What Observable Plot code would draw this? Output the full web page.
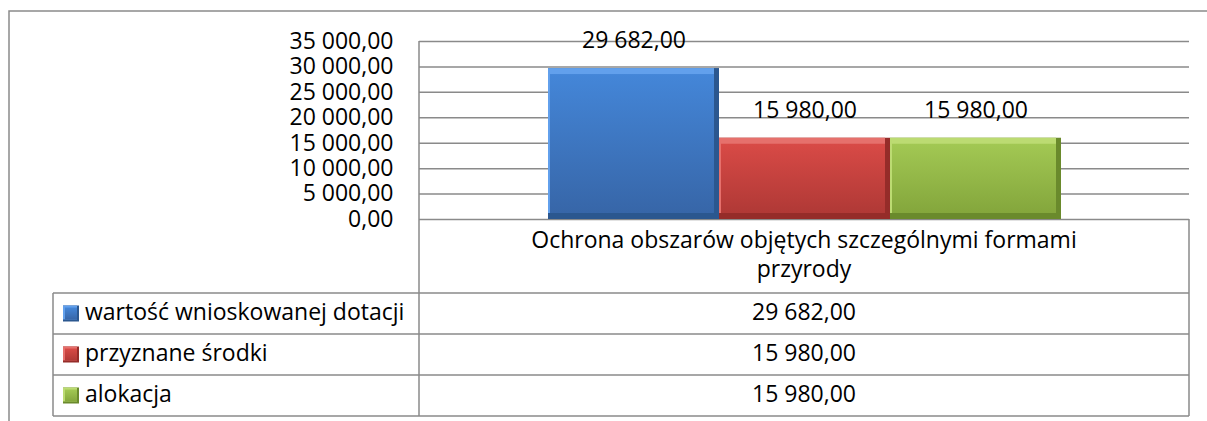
<!DOCTYPE html>
<html><head><meta charset="utf-8">
<script src="https://cdn.jsdelivr.net/npm/d3@7"></script>
<script src="https://cdn.jsdelivr.net/npm/@observablehq/plot@0.6"></script>
<style>body{margin:0;background:#fff;}</style>
</head><body><div id="chart"></div>
<script>
// ---- data ----
const categoryLines = ["Ochrona obszarów objętych szczególnymi formami", "przyrody"];
const series = ["wartość wnioskowanej dotacji", "przyznane środki", "alokacja"];
const values = [29682, 15980, 15980];
const yTicks = [0, 5000, 10000, 15000, 20000, 25000, 30000, 35000];
const faceTop = ["#4486d8", "#d84a46", "#a2c853"];
const faceBottom = ["#3766a8", "#b03936", "#84a63c"];
const edgeLight = ["#62a0ec", "#e6706c", "#bcdb72"];
const edgeDark = ["#2b578f", "#952c29", "#6a8a2c"];

(function () {
const FONT = "'Open Sans', sans-serif";
const FS = 23;
const GRID = "#8a8a8a";
const fmt = d3.formatLocale({decimal: ",", thousands: "\u00a0", grouping: [3], currency: ["", ""]}).format(",.2f");
const fmtS = v => fmt(v).replace(/\u00a0/g, " ");

const rows = series.map((s, i) => ({s, v: values[i], i}));

const chart = Plot.plot({
  width: 1207,
  height: 421,
  marginLeft: 419,
  marginRight: 18,
  marginTop: 41,
  marginBottom: 202,
  style: {fontFamily: FONT, fontSize: FS + "px", color: "#000", background: "#fff"},
  x: {type: "band", domain: series, paddingInner: 0, paddingOuter: 0.75, axis: null},
  y: {domain: [0, 35000], axis: null},
  color: {type: "identity"},
  marks: [
    Plot.ruleY(yTicks, {stroke: GRID, strokeWidth: 1.5}),
    Plot.axisY(yTicks, {tickSize: 0, tickPadding: 26, tickFormat: fmtS, fontSize: FS, fill: "#000", label: null}),
    Plot.barY(rows, {x: "s", y: "v", fill: d => edgeDark[d.i]}),
    Plot.barY(rows, {x: "s", y: "v", fill: d => edgeLight[d.i], insetBottom: 6, insetRight: 5}),
    Plot.barY(rows, {x: "s", y: "v", fill: d => `url(#face${d.i})`, insetTop: 6, insetBottom: 6, insetLeft: 2, insetRight: 5}),
    Plot.text(rows, {x: "s", y: "v", text: d => fmtS(d.v), dy: -28, fontSize: FS, fill: "#000", lineAnchor: "middle"})
  ]
});
document.getElementById("chart").appendChild(chart);

const svg = d3.select(chart);
const defs = svg.insert("defs", ":first-child");
series.forEach((s, i) => {
  const g = defs.append("linearGradient").attr("id", "face" + i).attr("x1", 0).attr("y1", 0).attr("x2", 0).attr("y2", 1);
  g.append("stop").attr("offset", "0%").attr("stop-color", faceTop[i]);
  g.append("stop").attr("offset", "100%").attr("stop-color", faceBottom[i]);
});

const xr = chart.scale("x").range;
const yr = chart.scale("y").range;
const xLeft = xr[0], xRight = xr[1], yBase = yr[0], yTop = yr[1];
const headerBottom = 293, rowH = 41, legendLeft = 53;
const tableBottom = headerBottom + rowH * series.length;
const midX = (xLeft + xRight) / 2;
const layer = svg.append("g").attr("text-anchor", "start");

layer.append("path").attr("d", `M9,421V11H1207`).attr("fill", "none").attr("stroke", GRID).attr("stroke-width", 1.5);
layer.append("line").attr("x1", xLeft).attr("x2", xLeft).attr("y1", yTop).attr("y2", tableBottom).attr("stroke", GRID).attr("stroke-width", 1.5);
layer.append("line").attr("x1", xRight).attr("x2", xRight).attr("y1", yBase).attr("y2", tableBottom).attr("stroke", GRID).attr("stroke-width", 1.5);
layer.append("line").attr("x1", legendLeft).attr("x2", legendLeft).attr("y1", headerBottom).attr("y2", tableBottom).attr("stroke", GRID).attr("stroke-width", 1.5);
for (let k = 0; k <= series.length; k++) {
  const y = headerBottom + k * rowH;
  layer.append("line").attr("x1", legendLeft).attr("x2", xRight).attr("y1", y).attr("y2", y).attr("stroke", GRID).attr("stroke-width", 1.5);
}
categoryLines.forEach((t, k) => {
  layer.append("text").attr("x", midX).attr("y", 242 + k * 29).attr("text-anchor", "middle").attr("dominant-baseline", "middle")
    .attr("font-family", FONT).attr("font-size", FS).attr("fill", "#000").text(t);
});
rows.forEach((d, k) => {
  const cy = headerBottom + k * rowH + rowH / 2;
  const kx = 63, ks = 16;
  layer.append("rect").attr("x", kx).attr("y", cy - ks / 2).attr("width", ks).attr("height", ks).attr("fill", edgeDark[d.i]);
  layer.append("rect").attr("x", kx).attr("y", cy - ks / 2).attr("width", ks - 2).attr("height", ks - 2).attr("fill", edgeLight[d.i]);
  layer.append("rect").attr("x", kx + 2).attr("y", cy - ks / 2 + 2).attr("width", ks - 4).attr("height", ks - 4).attr("fill", `url(#face${d.i})`);
  layer.append("text").attr("x", 85).attr("y", cy).attr("text-anchor", "start").attr("dominant-baseline", "middle")
    .attr("font-family", FONT).attr("font-size", FS).attr("fill", "#000").text(d.s);
  layer.append("text").attr("x", midX).attr("y", cy).attr("text-anchor", "middle").attr("dominant-baseline", "middle")
    .attr("font-family", FONT).attr("font-size", FS).attr("fill", "#000").text(fmtS(d.v));
});
})();
</script>
</body></html>
